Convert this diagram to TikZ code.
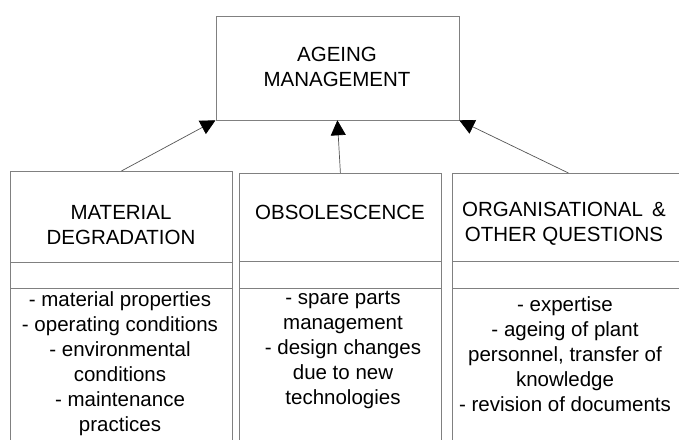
\documentclass[tikz,border=0pt]{standalone}
\usepackage{fontspec}
\setmainfont{Liberation Sans}
\usetikzlibrary{arrows.meta}

\definecolor{boxgray}{RGB}{128,128,128}
\definecolor{linegray}{RGB}{85,85,85}
\newcommand{\lblfont}{\fontsize{20.5}{25}\selectfont}

\tikzset{
  box/.style={shape=rectangle, draw=boxgray, line width=0.8pt, anchor=north west, inner sep=0pt},
  divider/.style={draw=boxgray, line width=0.8pt},
  lbl/.style={align=center, font=\lblfont, inner sep=0pt},
  arr/.style={-{Triangle[length=15pt,width=15pt,fill=black,color=black]}, draw=linegray, line width=0.7pt},
}

\begin{document}
\begin{tikzpicture}[x=1pt,y=-1pt]
  \clip (0,0) rectangle (679,439);
  \fill[white] (0,0) rectangle (679,439);

  % top box
  \node[box, minimum width=243pt, minimum height=104pt] (am) at (215.5,15.5) {};
  \node[lbl] (amt) at (337,67) {AGEING\\MANAGEMENT};

  % the three boxes below, cut off by the picture's edge
  \node[box, minimum width=222pt, minimum height=300pt] (md) at (10,171) {};
  \node[box, minimum width=202pt, minimum height=300pt] (ob) at (239,173) {};
  \node[box, minimum width=232pt, minimum height=300pt] (oq) at (452,173) {};

  \draw[divider] (10,262) -- (232,262);
  \draw[divider] (10,288) -- (232,288);
  \draw[divider] (239,261) -- (441,261);
  \draw[divider] (239,288) -- (441,288);
  \draw[divider] (452,261) -- (679,261);
  \draw[divider] (452,288) -- (679,288);

  \node[lbl] (mdt) at (121,225) {MATERIAL\\DEGRADATION};
  \node[lbl] (obt) at (340,212) {OBSOLESCENCE};
  \node[lbl] (oqt) at (564,224) {ORGANISATIONAL \,\&\\OTHER QUESTIONS};

  \node[lbl] (mdb) at (120,364) {- material properties\\- operating conditions\\- environmental\\conditions\\- maintenance\\practices};
  \node[lbl] (obb) at (343,350) {- spare parts\\management\\- design changes\\due to new\\technologies};
  \node[lbl] (oqb) at (565,354) {- expertise\\- ageing of plant\\personnel, transfer of\\knowledge\\- revision of documents};

  % arrows up to the top box
  \draw[arr] (md.north) -- (am.south west);
  \draw[arr] (ob.north) -- (am.south);
  \draw[arr] (oq.north) -- (am.south east);
\end{tikzpicture}
\end{document}
